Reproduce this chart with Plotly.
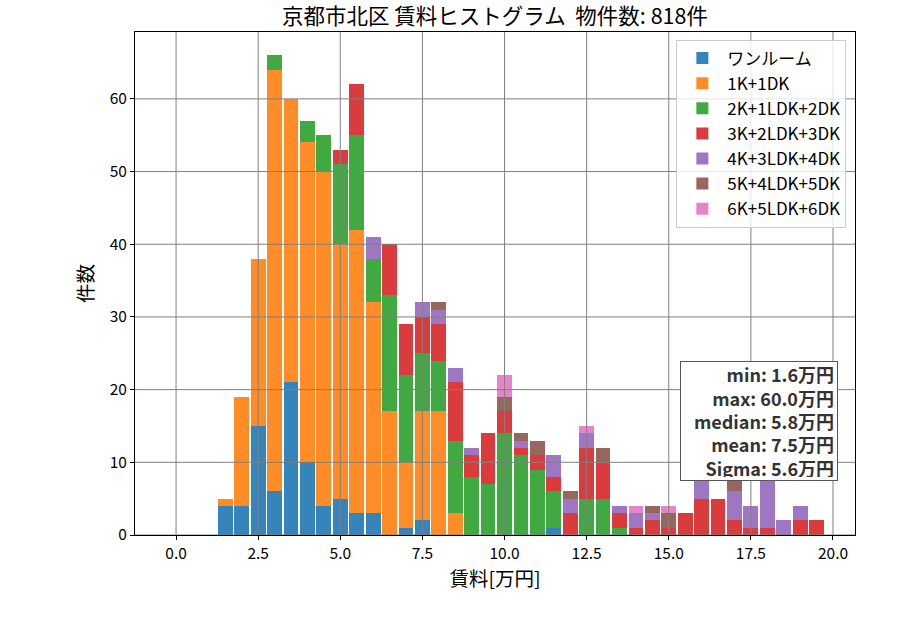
import plotly.graph_objects as go

FONT = "Noto Sans CJK JP"

bin_centers = [1.5, 2.0, 2.5, 3.0, 3.5, 4.0, 4.5, 5.0, 5.5, 6.0, 6.5, 7.0, 7.5, 8.0, 8.5,
               9.0, 9.5, 10.0, 10.5, 11.0, 11.5, 12.0, 12.5, 13.0, 13.5, 14.0, 14.5, 15.0,
               15.5, 16.0, 16.5, 17.0, 17.5, 18.0, 18.5, 19.0, 19.5]

series_names = ["ワンルーム", "1K+1DK", "2K+1LDK+2DK", "3K+2LDK+3DK",
                "4K+3LDK+4DK", "5K+4LDK+5DK", "6K+5LDK+6DK"]

one_room = [4, 4, 15, 6, 21, 10, 4, 5, 3, 3, 0, 1, 2, 0, 0,
            0, 0, 0, 0, 0, 1, 0, 0, 0, 0, 0, 0, 0,
            0, 0, 0, 0, 0, 0, 0, 0, 0]
k1 = [1, 15, 23, 58, 39, 44, 46, 35, 39, 29, 17, 9, 15, 17, 3,
      0, 0, 0, 0, 0, 0, 0, 0, 0, 0, 0, 0, 0,
      0, 0, 0, 0, 0, 0, 0, 0, 0]
k2 = [0, 0, 0, 2, 0, 3, 5, 11, 13, 6, 16, 12, 8, 7, 10,
      8, 7, 14, 11, 9, 5, 0, 5, 5, 1, 0, 0, 0,
      0, 0, 0, 0, 0, 0, 0, 0, 0]
k3 = [0, 0, 0, 0, 0, 0, 0, 2, 7, 0, 7, 7, 5, 5, 8,
      3, 7, 3, 1, 2, 2, 3, 7, 5, 2, 1, 2, 1,
      3, 5, 5, 2, 1, 1, 0, 2, 2]
k4 = [0, 0, 0, 0, 0, 0, 0, 0, 0, 3, 0, 0, 2, 2, 2,
      1, 0, 0, 1, 0, 3, 2, 2, 0, 1, 2, 1, 0,
      0, 3, 0, 4, 3, 7, 2, 2, 0]
k5 = [0, 0, 0, 0, 0, 0, 0, 0, 0, 0, 0, 0, 0, 1, 0,
      0, 0, 2, 1, 2, 0, 1, 0, 2, 0, 0, 1, 2,
      0, 0, 0, 2, 0, 0, 0, 0, 0]
k6 = [0, 0, 0, 0, 0, 0, 0, 0, 0, 0, 0, 0, 0, 0, 0,
      0, 0, 3, 0, 0, 0, 0, 1, 0, 0, 1, 0, 1,
      0, 0, 0, 0, 0, 0, 0, 0, 0]
series_values = [one_room, k1, k2, k3, k4, k5, k6]

colors = ["rgba(31,119,180,0.9)", "rgba(255,127,14,0.9)", "rgba(44,160,44,0.9)",
          "rgba(214,39,40,0.9)", "rgba(148,103,189,0.9)", "rgba(140,86,75,0.9)",
          "rgba(227,119,194,0.9)"]

x_ticks = [0.0, 2.5, 5.0, 7.5, 10.0, 12.5, 15.0, 17.5, 20.0]
x_tick_labels = ["0.0", "2.5", "5.0", "7.5", "10.0", "12.5", "15.0", "17.5", "20.0"]
y_ticks = [0, 10, 20, 30, 40, 50, 60]

stats_lines = ["min: 1.6万円", "max: 60.0万円", "median: 5.8万円", "mean: 7.5万円", "Sigma: 5.6万円"]
title_text = "京都市北区 賃料ヒストグラム  物件数: 818件"

fig = go.Figure()
for i, (name, vals, col) in enumerate(zip(series_names, series_values, colors)):
    fig.add_trace(go.Bar(x=bin_centers, y=vals, name=name, width=0.45,
                         legendgroup="g%d" % i,
                         marker=dict(color=col, line=dict(width=0))))

x_range = [-1.25, 20.67]
y_range = [0, 69.2]

shapes = []
for xv in x_ticks:
    shapes.append(dict(type="line", xref="x", yref="paper", x0=xv, x1=xv, y0=0, y1=1,
                       line=dict(color="#808080", width=1), layer="above"))
for yv in y_ticks:
    shapes.append(dict(type="line", xref="paper", yref="y", x0=0, x1=1, y0=yv, y1=yv,
                       line=dict(color="#808080", width=1), layer="above"))

fig.update_layout(
    width=900, height=630,
    margin=dict(l=135, r=45, t=32, b=95),
    barmode="stack", bargap=0,
    plot_bgcolor="white", paper_bgcolor="white",
    font=dict(family=FONT, size=15, color="black"),
    title=dict(text=title_text, x=(135 + 855) / 2 / 900, xanchor="center",
               y=1 - 16 / 630, yanchor="middle", font=dict(size=21.5, family=FONT)),
    xaxis=dict(range=x_range, tickvals=x_ticks, ticktext=x_tick_labels, showgrid=False,
               zeroline=False, showline=True, linecolor="black", linewidth=1, mirror=True,
               ticks="outside", ticklen=4, tickcolor="black",
               title=dict(text="賃料[万円]", font=dict(size=19.5), standoff=6),
               tickfont=dict(size=15.5)),
    yaxis=dict(range=y_range, tickvals=y_ticks, showgrid=False, zeroline=False,
               showline=True, linecolor="black", linewidth=1, mirror=True,
               ticks="outside", ticklen=4, tickcolor="black",
               title=dict(text="件数", font=dict(size=19.5), standoff=10),
               tickfont=dict(size=15.5)),
    legend=dict(x=0.988, y=0.985, xanchor="right", yanchor="top",
                bgcolor="rgba(255,255,255,0.8)", bordercolor="#cccccc", borderwidth=1,
                font=dict(size=17, family=FONT), traceorder="normal",
                itemwidth=40, tracegroupgap=4),
    shapes=shapes,
    annotations=[dict(text="<br>".join("<b>" + s + "</b>" for s in stats_lines),
                      xref="paper", yref="paper", x=(838 - 135) / 720, y=(535 - 481) / 503,
                      xanchor="right", yanchor="bottom", align="right", valign="middle",
                      showarrow=False, width=150, height=112,
                      font=dict(size=18, family=FONT, color="#333333"),
                      bgcolor="white", bordercolor="#555555", borderwidth=1, borderpad=3)],
)

fig.write_html("out.html")
